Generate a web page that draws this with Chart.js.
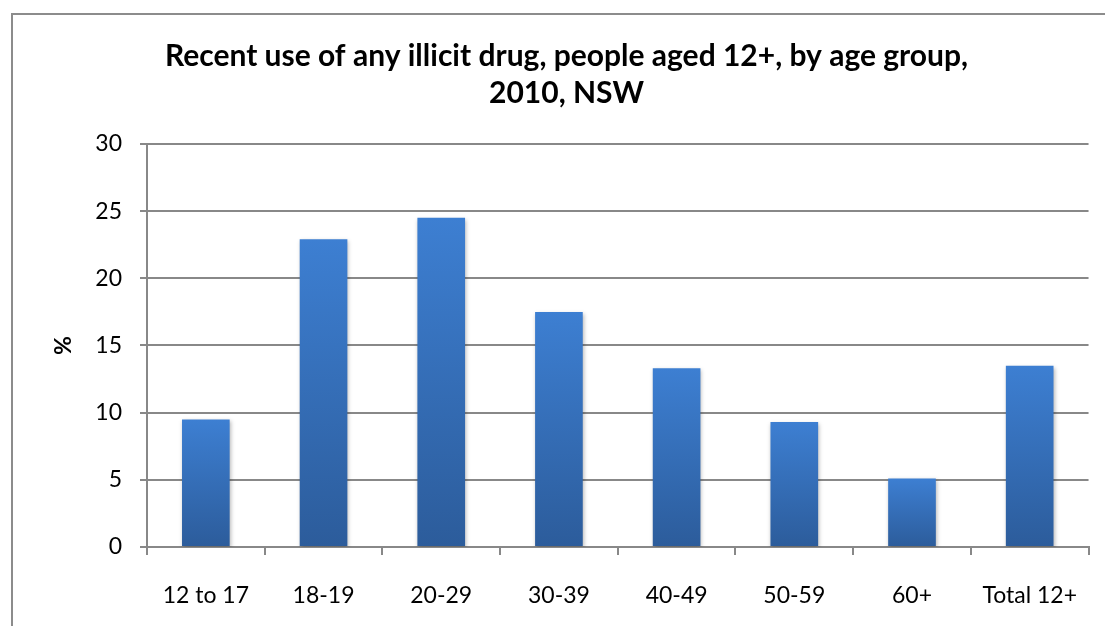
<!DOCTYPE html>
<html>
<head>
<meta charset="utf-8">
<script src="https://cdn.jsdelivr.net/npm/chart.js@4/dist/chart.umd.min.js"></script>
<style>
  html, body { margin: 0; padding: 0; background: #ffffff; }
  #wrap { position: relative; width: 1105px; height: 626px; }
</style>
</head>
<body>
<div id="wrap"><canvas id="chart" width="1105" height="626"></canvas></div>
<script>
// Recent use of any illicit drug, NSW 2010, by age group (%)
const categories = ['12 to 17', '18-19', '20-29', '30-39', '40-49', '50-59', '60+', 'Total 12+'];
const percentUsed = [9.5, 22.9, 24.5, 17.5, 13.3, 9.3, 5.1, 13.5];
const titleLines = ['Recent use of any illicit drug, people aged 12+, by age group,', '2010, NSW'];
const yAxisTitle = '%';
const yTicks = { min: 0, max: 30, step: 5 };

const FONT = 'Lato, Calibri, Carlito, "Noto Sans", sans-serif';
const GRID = '#888888';
const LEFT_PAD = 44;

// Vertical gradient per bar: lighter blue at top, deeper blue at the base
function barGradient(context) {
  const chart = context.chart;
  const { ctx, chartArea, scales } = chart;
  if (!chartArea || !scales.y) return '#3a78c6';
  const v = context.raw;
  const yTop = scales.y.getPixelForValue(v);
  const yBase = scales.y.getPixelForValue(0);
  if (!isFinite(yTop) || !isFinite(yBase) || yTop === yBase) return '#3a78c6';
  const g = ctx.createLinearGradient(0, yTop, 0, yBase);
  g.addColorStop(0, '#3d7fd2');
  g.addColorStop(1, '#2c5c9b');
  return g;
}

// Outer frame of the chart box
const framePlugin = {
  id: 'frame',
  beforeDraw(chart) {
    const ctx = chart.ctx;
    ctx.save();
    ctx.fillStyle = '#ffffff';
    ctx.fillRect(0, 0, chart.width, chart.height);
    ctx.strokeStyle = '#8c8c8c';
    ctx.lineWidth = 2;
    ctx.beginPath();
    ctx.moveTo(12, chart.height + 2);
    ctx.lineTo(12, 14);
    ctx.lineTo(chart.width + 2, 14);
    ctx.stroke();
    ctx.restore();
  }
};

// Soft drop shadow under the bars
const barShadow = {
  id: 'barShadow',
  beforeDatasetsDraw(chart) {
    const ctx = chart.ctx;
    ctx.save();
    ctx.shadowColor = 'rgba(0,0,0,0.28)';
    ctx.shadowBlur = 4;
    ctx.shadowOffsetX = 1;
    ctx.shadowOffsetY = 2;
  },
  afterDatasetsDraw(chart) {
    chart.ctx.restore();
  }
};

new Chart(document.getElementById('chart'), {
  type: 'bar',
  data: {
    labels: categories,
    datasets: [{
      data: percentUsed,
      backgroundColor: barGradient,
      borderWidth: 0,
      categoryPercentage: 1.0,
      barPercentage: 0.405
    }]
  },
  options: {
    responsive: false,
    animation: false,
    devicePixelRatio: 1,
    layout: { padding: { left: LEFT_PAD, right: 16, top: 0, bottom: 0 } },
    plugins: {
      legend: { display: false },
      tooltip: { enabled: false },
      title: {
        display: true,
        text: titleLines,
        color: '#000000',
        font: { family: FONT, size: 30, weight: 'bold', lineHeight: 1.233 },
        padding: { top: 38, bottom: 32 }
      }
    },
    scales: {
      x: {
        grid: {
          display: true,
          drawOnChartArea: false,
          drawTicks: true,
          tickLength: 8,
          color: GRID,
          lineWidth: 2,
          offset: true
        },
        border: { display: true, color: GRID, width: 2 },
        ticks: {
          color: '#000000',
          font: { family: FONT, size: 23 },
          padding: 27,
          maxRotation: 0,
          autoSkip: false
        },
        afterFit(scale) { scale.height = 79; }
      },
      y: {
        min: yTicks.min,
        max: yTicks.max,
        grid: {
          color: GRID,
          lineWidth: 2,
          drawTicks: true,
          tickLength: 7
        },
        border: { display: true, color: GRID, width: 2 },
        ticks: {
          stepSize: yTicks.step,
          color: '#000000',
          font: { family: FONT, size: 23 },
          padding: 18
        },
        title: {
          display: true,
          text: yAxisTitle,
          color: '#000000',
          font: { family: FONT, size: 23, weight: 'bold' },
          padding: { top: 50 - LEFT_PAD, bottom: 0 }
        },
        afterFit(scale) { scale.width = 147 - LEFT_PAD; }
      }
    }
  },
  plugins: [framePlugin, barShadow]
});
</script>
</body>
</html>
